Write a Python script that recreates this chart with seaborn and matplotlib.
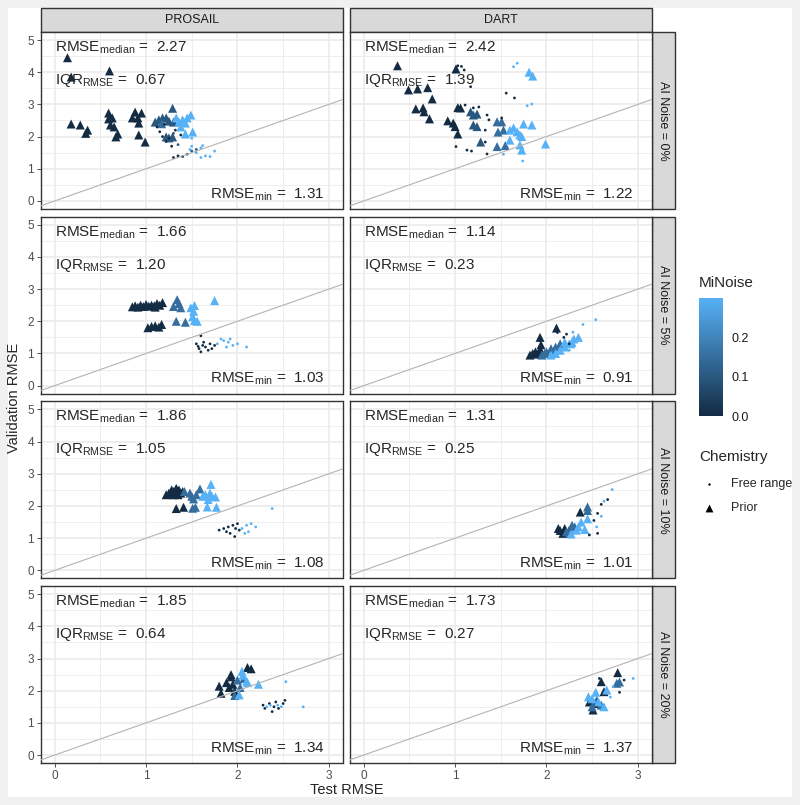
import matplotlib
matplotlib.use("Agg")

import matplotlib.pyplot as plt
import pandas as pd
import seaborn as sns
from matplotlib.colors import LinearSegmentedColormap, Normalize
from matplotlib.cm import ScalarMappable
from matplotlib.patches import Rectangle


MODELS = ["PROSAIL", "DART"]
AI_NOISE = ["0%", "5%", "10%", "20%"]

# summary numbers per AI noise level (rows)
PROSAIL_MEDIAN = [2.27, 1.66, 1.86, 1.85]
DART_MEDIAN = [2.42, 1.14, 1.31, 1.73]
PROSAIL_IQR = [0.67, 1.20, 1.05, 0.64]
DART_IQR = [1.39, 0.23, 0.25, 0.27]
PROSAIL_MIN = [1.31, 1.03, 1.08, 1.34]
DART_MIN = [1.22, 0.91, 1.01, 1.37]

# (test RMSE, validation RMSE, MiNoise)
PROSAIL_0_PRIOR = [
    (0.14, 4.45, 0.0), (0.60, 4.04, 0.0), (0.18, 3.85, 0.0),
    (0.18, 2.39, 0.0), (0.28, 2.36, 0.0), (0.36, 2.20, 0.0), (0.34, 2.10, 0.0),
    (0.59, 2.73, 0.0), (0.59, 2.55, 0.0), (0.63, 2.58, 0.0), (0.61, 2.36, 0.0),
    (0.65, 2.30, 0.0), (0.67, 1.99, 0.0), (0.69, 2.08, 0.0),
    (0.88, 2.76, 0.0), (0.85, 2.58, 0.0), (0.91, 2.58, 0.0), (0.95, 2.73, 0.0),
    (0.92, 2.42, 0.0), (0.92, 2.05, 0.0), (0.99, 1.83, 0.0),
    (1.10, 2.45, 0.1), (1.14, 2.52, 0.1), (1.18, 2.58, 0.1), (1.22, 2.58, 0.1),
    (1.25, 2.48, 0.1), (1.29, 2.88, 0.1), (1.30, 2.45, 0.1), (1.22, 1.99, 0.1),
    (1.25, 1.96, 0.1), (1.29, 1.99, 0.1), (1.17, 2.40, 0.15),
    (1.33, 2.58, 0.3), (1.36, 2.45, 0.3), (1.40, 2.52, 0.3), (1.43, 2.42, 0.3),
    (1.45, 2.58, 0.3), (1.49, 2.67, 0.3), (1.38, 2.30, 0.3), (1.43, 2.08, 0.3),
    (1.51, 2.14, 0.3),
]
PROSAIL_0_FREE = [
    (1.12, 2.30, 0.0), (1.15, 2.15, 0.0), (1.18, 2.00, 0.0), (1.22, 1.85, 0.0),
    (1.28, 1.70, 0.0), (1.30, 1.35, 0.0), (1.35, 1.40, 0.0), (1.25, 1.95, 0.0),
    (1.32, 2.20, 0.0), (1.20, 2.38, 0.0), (1.40, 1.38, 0.0), (1.38, 2.05, 0.0),
    (1.30, 2.10, 0.1), (1.45, 1.45, 0.1), (1.50, 1.55, 0.1), (1.55, 1.60, 0.1),
    (1.35, 1.75, 0.1),
    (1.50, 1.70, 0.3), (1.55, 1.50, 0.3), (1.60, 1.65, 0.3), (1.65, 1.40, 0.3),
    (1.70, 1.38, 0.3), (1.75, 1.55, 0.3), (1.62, 1.72, 0.3), (1.50, 1.95, 0.3),
    (1.45, 2.00, 0.3), (1.60, 1.35, 0.3), (1.48, 1.60, 0.3),
]
DART_0_PRIOR = [
    (0.37, 4.20, 0.0), (0.49, 3.45, 0.0), (0.59, 3.48, 0.0), (0.70, 3.52, 0.0),
    (0.75, 3.17, 0.0), (0.57, 2.86, 0.0), (0.65, 2.89, 0.0), (0.66, 2.77, 0.0),
    (0.72, 2.55, 0.0), (0.92, 2.49, 0.0), (0.98, 2.42, 0.0), (1.00, 2.31, 0.0),
    (1.03, 2.08, 0.0), (1.01, 4.10, 0.0), (1.03, 2.90, 0.0), (1.06, 2.89, 0.0),
    (1.17, 2.77, 0.1), (1.20, 2.67, 0.1), (1.24, 2.70, 0.1), (1.20, 2.36, 0.1),
    (1.24, 2.31, 0.1), (1.28, 1.83, 0.1),
    (1.46, 2.46, 0.15), (1.47, 2.14, 0.15), (1.51, 2.46, 0.15), (1.53, 2.20, 0.15),
    (1.46, 1.69, 0.15), (1.55, 1.72, 0.15),
    (1.60, 2.20, 0.3), (1.64, 2.27, 0.3), (1.68, 2.15, 0.3), (1.71, 2.05, 0.3),
    (1.73, 2.00, 0.3), (1.60, 1.89, 0.3), (1.75, 2.39, 0.3), (1.84, 2.36, 0.3),
    (1.71, 1.74, 0.3), (1.73, 1.58, 0.3), (1.99, 1.77, 0.3), (1.81, 4.00, 0.3),
    (1.85, 3.88, 0.3),
]
DART_0_FREE = [
    (1.03, 4.20, 0.0), (1.07, 4.18, 0.0), (1.10, 4.07, 0.0), (1.17, 3.55, 0.0),
    (1.11, 2.98, 0.0), (1.20, 2.89, 0.0), (1.26, 2.92, 0.0), (1.35, 2.67, 0.0),
    (1.37, 2.52, 0.0), (1.33, 2.20, 0.0), (1.01, 1.69, 0.0), (1.13, 1.58, 0.0),
    (1.18, 1.55, 0.0), (1.35, 1.46, 0.0), (1.56, 3.35, 0.0), (1.65, 3.20, 0.0),
    (1.51, 2.58, 0.0), (1.33, 1.83, 0.0),
    (1.64, 4.17, 0.3), (1.68, 4.28, 0.3), (1.79, 2.96, 0.3), (1.84, 3.01, 0.3),
    (1.74, 1.24, 0.3), (1.53, 1.45, 0.3),
]
PROSAIL_5_PRIOR = [
    (0.85, 2.45, 0.0), (0.88, 2.48, 0.0), (0.91, 2.44, 0.0), (0.94, 2.50, 0.0),
    (0.97, 2.46, 0.0), (1.00, 2.52, 0.0), (1.03, 2.47, 0.0), (1.06, 2.50, 0.0),
    (1.09, 2.48, 0.0), (1.12, 2.55, 0.0), (1.15, 2.50, 0.0), (1.18, 2.58, 0.0),
    (1.10, 2.44, 0.0), (1.02, 1.80, 0.0), (1.06, 1.84, 0.0), (1.10, 1.86, 0.0),
    (1.14, 1.82, 0.0), (1.17, 1.90, 0.0),
    (1.34, 2.67, 0.15), (1.30, 2.46, 0.15), (1.36, 2.55, 0.15), (1.38, 2.42, 0.15),
    (1.33, 2.00, 0.15), (1.43, 1.97, 0.15),
    (1.49, 2.42, 0.3), (1.53, 2.49, 0.3), (1.52, 2.31, 0.3), (1.51, 2.14, 0.3),
    (1.56, 2.00, 0.3), (1.53, 2.02, 0.3), (1.75, 2.64, 0.3),
]
PROSAIL_5_FREE = [
    (1.55, 1.30, 0.0), (1.58, 1.15, 0.0), (1.60, 1.05, 0.0), (1.62, 1.25, 0.0),
    (1.65, 1.20, 0.0), (1.68, 1.10, 0.0), (1.70, 1.30, 0.0), (1.60, 1.55, 0.0),
    (1.72, 1.15, 0.0), (1.57, 1.22, 0.0), (1.63, 1.35, 0.0), (1.75, 1.25, 0.0),
    (1.78, 1.30, 0.3), (1.85, 1.40, 0.3), (1.90, 1.35, 0.3), (1.95, 1.25, 0.3),
    (2.00, 1.30, 0.3), (2.10, 1.20, 0.3), (1.88, 1.20, 0.3), (1.82, 1.45, 0.3),
    (1.92, 1.45, 0.3),
]
DART_5_PRIOR = [
    (1.82, 0.95, 0.0), (1.85, 1.00, 0.0), (1.88, 1.05, 0.0), (1.90, 0.98, 0.0),
    (1.93, 1.10, 0.0), (1.95, 1.02, 0.0), (1.93, 1.50, 0.0), (1.94, 1.27, 0.0),
    (2.11, 1.79, 0.0),
    (1.95, 0.95, 0.15), (2.00, 1.05, 0.15), (2.05, 1.15, 0.15), (2.10, 1.20, 0.15),
    (2.15, 1.30, 0.15), (1.98, 1.00, 0.15), (2.08, 1.00, 0.15),
    (2.10, 1.00, 0.3), (2.15, 1.10, 0.3), (2.20, 1.20, 0.3), (2.25, 1.30, 0.3),
    (2.30, 1.45, 0.3), (2.35, 1.50, 0.3), (2.05, 0.95, 0.3), (2.20, 1.35, 0.3),
    (2.28, 1.35, 0.3),
]
DART_5_FREE = [
    (2.22, 1.60, 0.0), (2.19, 1.50, 0.0), (2.25, 1.30, 0.0), (2.12, 1.65, 0.0),
    (2.29, 1.66, 0.3), (2.40, 1.90, 0.3), (2.54, 2.05, 0.3), (2.30, 1.20, 0.3),
    (2.25, 1.10, 0.3),
]
PROSAIL_10_PRIOR = [
    (1.22, 2.35, 0.0), (1.25, 2.40, 0.0), (1.28, 2.50, 0.0), (1.30, 2.45, 0.0),
    (1.33, 2.55, 0.0), (1.36, 2.50, 0.0), (1.38, 2.40, 0.0), (1.40, 2.45, 0.0),
    (1.30, 2.35, 0.0), (1.35, 2.35, 0.0), (1.33, 1.92, 0.0), (1.41, 1.96, 0.0),
    (1.42, 2.45, 0.15), (1.48, 2.40, 0.15), (1.50, 2.30, 0.15), (1.55, 2.35, 0.15),
    (1.52, 2.22, 0.15), (1.59, 2.53, 0.15), (1.51, 1.93, 0.15), (1.54, 1.96, 0.15),
    (1.71, 2.67, 0.3), (1.62, 2.30, 0.3), (1.65, 2.35, 0.3), (1.70, 2.40, 0.3),
    (1.72, 2.30, 0.3), (1.68, 2.20, 0.3), (1.76, 2.28, 0.3), (1.67, 1.97, 0.3),
    (1.77, 1.96, 0.3),
]
PROSAIL_10_FREE = [
    (1.80, 1.25, 0.0), (1.85, 1.30, 0.0), (1.88, 1.20, 0.0), (1.90, 1.35, 0.0),
    (1.95, 1.40, 0.0), (1.98, 1.30, 0.0), (2.00, 1.45, 0.0), (1.92, 1.15, 0.0),
    (2.02, 1.25, 0.0), (1.97, 1.05, 0.0),
    (2.05, 1.30, 0.3), (2.10, 1.40, 0.3), (2.15, 1.45, 0.3), (2.20, 1.35, 0.3),
    (2.12, 1.20, 0.3), (2.08, 1.15, 0.3), (2.38, 1.92, 0.3),
]
DART_10_PRIOR = [
    (2.37, 1.81, 0.0), (2.15, 1.24, 0.0), (2.18, 1.15, 0.0), (2.20, 1.30, 0.0),
    (2.25, 1.25, 0.0), (2.13, 1.30, 0.0),
    (2.45, 1.86, 0.15), (2.28, 1.40, 0.15), (2.45, 1.97, 0.15), (2.31, 1.35, 0.15),
    (2.25, 1.18, 0.15), (2.22, 1.20, 0.15),
    (2.35, 1.35, 0.3), (2.42, 1.27, 0.3), (2.38, 1.50, 0.3), (2.45, 1.60, 0.3),
    (2.27, 1.13, 0.3), (2.33, 1.25, 0.3),
]
DART_10_FREE = [
    (2.67, 2.20, 0.0), (2.60, 2.05, 0.0), (2.56, 1.77, 0.0), (2.52, 1.55, 0.0),
    (2.56, 1.15, 0.0), (2.47, 1.10, 0.0),
    (2.72, 2.51, 0.3), (2.63, 2.15, 0.3), (2.60, 1.68, 0.3), (2.55, 1.35, 0.3),
]
PROSAIL_20_PRIOR = [
    (2.11, 2.72, 0.0), (2.15, 2.68, 0.0), (1.80, 2.14, 0.0), (1.82, 1.92, 0.0),
    (1.93, 2.43, 0.0), (1.95, 2.20, 0.0), (1.91, 2.10, 0.0), (1.97, 1.98, 0.0),
    (1.93, 2.50, 0.0), (1.88, 2.25, 0.0),
    (2.00, 2.33, 0.15), (2.03, 2.10, 0.15), (1.97, 1.85, 0.15), (2.07, 2.38, 0.15),
    (2.06, 2.48, 0.3), (2.10, 2.30, 0.3), (2.23, 2.20, 0.3), (2.02, 1.87, 0.3),
    (2.05, 2.60, 0.3), (2.11, 2.25, 0.3),
]
PROSAIL_20_FREE = [
    (2.28, 1.55, 0.0), (2.30, 1.45, 0.0), (2.35, 1.60, 0.0), (2.40, 1.50, 0.0),
    (2.45, 1.45, 0.0), (2.50, 1.60, 0.0), (2.52, 1.70, 0.0), (2.38, 1.35, 0.0),
    (2.42, 1.65, 0.0),
    (2.32, 1.50, 0.3), (2.36, 1.55, 0.3), (2.44, 1.55, 0.3), (2.48, 1.50, 0.3),
    (2.53, 2.28, 0.3), (2.72, 1.50, 0.3),
]
DART_20_PRIOR = [
    (2.78, 2.56, 0.0), (2.60, 2.28, 0.0), (2.63, 1.97, 0.0), (2.51, 1.40, 0.0),
    (2.47, 1.65, 0.0), (2.54, 1.60, 0.0),
    (2.77, 2.23, 0.15), (2.80, 2.27, 0.15), (2.55, 1.70, 0.15), (2.60, 1.55, 0.15),
    (2.50, 1.50, 0.15),
    (2.46, 1.81, 0.3), (2.50, 1.75, 0.3), (2.57, 1.65, 0.3), (2.66, 2.02, 0.3),
    (2.54, 1.95, 0.3), (2.63, 1.50, 0.3),
]
DART_20_FREE = [
    (2.58, 2.38, 0.0), (2.85, 2.33, 0.0), (2.80, 1.95, 0.0),
    (2.95, 2.38, 0.3), (2.73, 2.13, 0.3), (2.70, 1.80, 0.3),
]

POINTS = {
    ("PROSAIL", "0%"): (PROSAIL_0_PRIOR, PROSAIL_0_FREE),
    ("DART", "0%"): (DART_0_PRIOR, DART_0_FREE),
    ("PROSAIL", "5%"): (PROSAIL_5_PRIOR, PROSAIL_5_FREE),
    ("DART", "5%"): (DART_5_PRIOR, DART_5_FREE),
    ("PROSAIL", "10%"): (PROSAIL_10_PRIOR, PROSAIL_10_FREE),
    ("DART", "10%"): (DART_10_PRIOR, DART_10_FREE),
    ("PROSAIL", "20%"): (PROSAIL_20_PRIOR, PROSAIL_20_FREE),
    ("DART", "20%"): (DART_20_PRIOR, DART_20_FREE),
}
STATS = {
    "PROSAIL": (PROSAIL_MEDIAN, PROSAIL_IQR, PROSAIL_MIN),
    "DART": (DART_MEDIAN, DART_IQR, DART_MIN),
}

# figure geometry in pixels
FIG_W, FIG_H = 800, 805
COL_LEFTS = [41, 350]
PANEL_W = 301.5
ROW_TOPS = [32, 216.7, 401.4, 586.1]
PANEL_H = 177
STRIP_TOP = 8
STRIP_W = 23

GREY20 = "#333333"
GREY30 = "#4d4d4d"
GRID = "#ebebeb"


def px_box(left, top, right, bottom):
    return [left / FIG_W, 1 - bottom / FIG_H, (right - left) / FIG_W, (bottom - top) / FIG_H]


def build_frame() -> pd.DataFrame:
    rows = []
    for (model, noise), (prior, free) in POINTS.items():
        for x, y, m in prior:
            rows.append((model, noise, "Prior", x, y, m))
        for x, y, m in free:
            rows.append((model, noise, "Free range", x, y, m))
    return pd.DataFrame(
        rows, columns=["model", "ai_noise", "Chemistry", "test_rmse", "val_rmse", "MiNoise"]
    )


sns.set_theme(style="whitegrid")
plt.rcParams["font.family"] = ["Liberation Sans", "DejaVu Sans"]
plt.rcParams["mathtext.fontset"] = "custom"
plt.rcParams["mathtext.rm"] = "Liberation Sans"
plt.rcParams["mathtext.it"] = "Liberation Sans:italic"
plt.rcParams["mathtext.bf"] = "Liberation Sans:bold"

df = build_frame()
cmap = LinearSegmentedColormap.from_list("gg_blue", ["#132B43", "#56B1F7"])
norm = Normalize(vmin=0.0, vmax=0.3)

fig = plt.figure(figsize=(FIG_W / 100, FIG_H / 100), dpi=100)
fig.patch.set_facecolor("#f0f0f0")

# overlay in pixel coordinates for background, strips, titles, legends
lax = fig.add_axes([0, 0, 1, 1], zorder=-1)
lax.set_xlim(0, FIG_W)
lax.set_ylim(FIG_H, 0)
lax.axis("off")
lax.patch.set_visible(False)
lax.add_patch(Rectangle((8, 8), 784, 789, facecolor="white", edgecolor="none", zorder=0))

for r, noise in enumerate(AI_NOISE):
    for c, model in enumerate(MODELS):
        left = COL_LEFTS[c]
        top = ROW_TOPS[r]
        ax = fig.add_axes(px_box(left, top, left + PANEL_W, top + PANEL_H))
        sub = df[(df["model"] == model) & (df["ai_noise"] == noise)]
        sns.scatterplot(
            data=sub, x="test_rmse", y="val_rmse",
            hue="MiNoise", hue_norm=norm, palette=cmap,
            style="Chemistry", markers={"Free range": "o", "Prior": "^"},
            size="Chemistry", sizes={"Free range": 4, "Prior": 42},
            linewidth=0, legend=False, ax=ax, zorder=2,
        )
        ax.plot([-0.15, 3.15], [-0.15, 3.15], color="#b3b3b3", lw=0.8, zorder=3)

        ax.set_xlim(-0.15, 3.15)
        ax.set_ylim(-0.25, 5.25)
        ax.set_xticks([0, 1, 2, 3])
        ax.set_xticks([0.5, 1.5, 2.5], minor=True)
        ax.set_yticks([0, 1, 2, 3, 4, 5])
        ax.set_yticks([0.5, 1.5, 2.5, 3.5, 4.5], minor=True)
        ax.grid(which="major", color=GRID, lw=1.2)
        ax.grid(which="minor", color=GRID, lw=0.6)
        ax.set_axisbelow(True)
        ax.set_xlabel("")
        ax.set_ylabel("")
        for spine in ax.spines.values():
            spine.set_visible(True)
            spine.set_color(GREY20)
            spine.set_linewidth(1.0)

        ax.tick_params(which="minor", length=0)
        ax.tick_params(which="major", length=3, width=0.6, color=GREY20,
                       labelsize=8.5, labelcolor=GREY30, pad=2)
        ax.tick_params(axis="y", left=(c == 0), labelleft=(c == 0))
        ax.tick_params(axis="x", bottom=(r == 3), labelbottom=(r == 3))

        med, iqr, mn = STATS[model]
        ax.text(0, 4.64, r"RMSE$_{\mathrm{median}}$ =  " + f"{med[r]:.2f}",
                fontsize=11, ha="left", va="baseline", zorder=4)
        ax.text(0, 3.64, r"IQR$_{\mathrm{RMSE}}$ =  " + f"{iqr[r]:.2f}",
                fontsize=11, ha="left", va="baseline", zorder=4)
        ax.text(2.95, 0.08, r"RMSE$_{\mathrm{min}}$ =  " + f"{mn[r]:.2f}",
                fontsize=11, ha="right", va="baseline", zorder=4)

# facet strips
for c, model in enumerate(MODELS):
    left = COL_LEFTS[c]
    lax.add_patch(Rectangle((left, STRIP_TOP), PANEL_W, ROW_TOPS[0] - STRIP_TOP,
                            facecolor="#d9d9d9", edgecolor=GREY20, lw=1.0))
    lax.text(left + PANEL_W / 2, (STRIP_TOP + ROW_TOPS[0]) / 2, model,
             ha="center", va="center", fontsize=9, color="#1a1a1a")

strip_left = COL_LEFTS[1] + PANEL_W
for r, noise in enumerate(AI_NOISE):
    top = ROW_TOPS[r]
    lax.add_patch(Rectangle((strip_left, top), STRIP_W, PANEL_H,
                            facecolor="#d9d9d9", edgecolor=GREY20, lw=1.0))
    lax.text(strip_left + STRIP_W / 2, top + PANEL_H / 2, f"AI Noise = {noise}",
             ha="center", va="center", rotation=270, fontsize=9, color="#1a1a1a")

# axis titles
lax.text((COL_LEFTS[0] + COL_LEFTS[1] + PANEL_W) / 2, 790, "Test RMSE",
         ha="center", va="center", fontsize=10.5)
lax.text(14, (ROW_TOPS[0] + ROW_TOPS[3] + PANEL_H) / 2, "Validation RMSE",
         ha="center", va="center", rotation=90, fontsize=10.5)

# MiNoise colour bar
lax.text(699, 283, "MiNoise", ha="left", va="center", fontsize=11)
cax = fig.add_axes(px_box(699, 298, 723, 416))
cb = fig.colorbar(ScalarMappable(norm=norm, cmap=cmap), cax=cax)
cb.outline.set_visible(False)
cb.set_ticks([0.0, 0.1, 0.2])
cb.set_ticklabels(["0.0", "0.1", "0.2"])
cax.tick_params(axis="y", direction="in", length=4, width=0.6, colors="white",
                left=True, right=True, labelleft=False, labelright=True, pad=6)
cax.tick_params(axis="y", labelcolor="#1a1a1a", labelsize=9)

# Chemistry shape legend
lax.text(699, 457, "Chemistry", ha="left", va="center", fontsize=11)
lax.scatter([709], [484], s=3, marker="o", color="black", linewidths=0)
lax.scatter([709], [508], s=32, marker="^", color="black", linewidths=0)
lax.text(731, 484, "Free range", ha="left", va="center", fontsize=9)
lax.text(731, 508, "Prior", ha="left", va="center", fontsize=9)

fig.savefig("out.png", dpi=100, facecolor=fig.get_facecolor())
